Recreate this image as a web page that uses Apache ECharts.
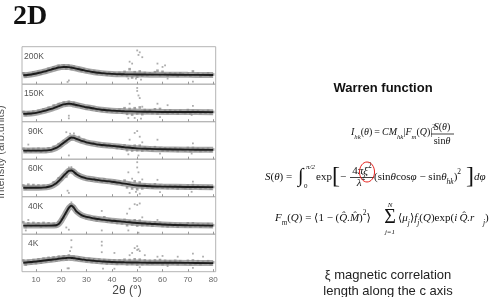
<!DOCTYPE html>
<html>
<head>
<meta charset="utf-8">
<script src="https://cdn.jsdelivr.net/npm/echarts@6/dist/echarts.min.js"></script>
<style>
html,body{margin:0;padding:0;background:#fff}
#main{width:492px;height:297px}
</style>
</head>
<body>
<div id="main"></div>
<script>
// temperatures, top panel first
var temps = ['200K', '150K', '90K', '60K', '40K', '4K'];
var xTicks = [10, 20, 30, 40, 50, 60, 70, 80];

// measured points, one per degree 2θ
var angles = [5, 6, 7, 8, 9, 10, 11, 12, 13, 14, 15, 16, 17, 18, 19, 20, 21, 22, 23, 24, 25, 26, 27, 28, 29, 30,
  31, 32, 33, 34, 35, 36, 37, 38, 39, 40, 41, 42, 43, 44, 45, 46, 47, 48, 49, 50, 51, 52, 53, 54, 55,
  56, 57, 58, 59, 60, 61, 62, 63, 64, 65, 66, 67, 68, 69, 70, 71, 72, 73, 74, 75, 76, 77, 78, 79, 80];

var pts200 = [2.9,2.1,2.7,2.4,3.1,2.7, 3.3,2.8,3.6,3.2,4.1,3.7,4.5,4.0,4.9,4.3, 5.0,4.2,4.9,4.1,4.7,3.9,4.3,3.6,4.0,3.3,
  3.7,3.1,3.5,2.8,3.2,2.7,3.1,2.5,3.0,2.6, 2.9,2.4,3.0,2.5,3.3,2.2,4.0,1.8,3.2,2.0, 3.4,2.3,3.0,2.4,2.9,2.6,3.2,3.6,2.4,3.3,
  2.7,2.3,2.9,2.5,2.8,2.2,2.9,2.6,2.4,2.8, 2.3,3.4,2.5,2.8,2.2,2.7,2.5,2.9,2.3,2.6];
var pts150 = [2.6,1.8,2.4,2.0,2.7,2.3, 2.9,2.4,3.3,2.8,3.7,3.3,4.3,3.8,4.7,4.2, 5.1,4.4,5.3,4.5,5.0,4.2,4.6,3.8,4.2,3.5,
  4.0,3.3,3.7,3.0,3.5,2.9,3.3,2.7,3.2,2.7, 3.0,2.6,3.2,2.4,3.6,2.1,3.4,1.9,3.6,2.2, 3.8,2.0,3.1,2.5,3.0,2.3,3.3,2.2,3.4,2.5,
  2.9,2.3,3.0,2.4,2.8,2.2,2.9,2.5,2.3,3.1, 2.2,2.9,2.5,2.8,2.3,2.7,2.4,2.9,2.3,2.6];
var pts90 = [2.8,2.0,2.6,2.1,2.7,2.2, 2.8,2.0,2.7,2.1,2.9,2.3,3.3,3.0,4.0,3.6, 4.8,4.6,5.6,5.3,6.2,5.3,5.9,4.7,5.1,4.3,
  4.6,4.0,4.3,3.7,4.2,3.6,4.0,3.4,3.8,3.3, 3.6,3.0,3.5,2.8,3.7,2.4,3.4,2.3,3.6,2.4, 3.6,2.3,3.1,2.6,3.0,2.4,3.2,2.7,2.9,2.3,
  2.9,2.3,2.8,2.4,2.9,2.2,2.8,2.5,2.3,3.0, 2.2,3.0,2.4,2.8,2.2,2.7,2.3,2.8,2.2,2.6];
var pts60 = [3.0,2.2,3.2,2.4,3.1,2.5, 3.0,2.3,2.9,2.5,3.0,2.8,3.8,3.4,4.9,4.5, 5.9,5.4,7.2,7.3,7.1,6.3,6.0,5.1,5.2,4.6,
  5.1,4.3,4.8,4.2,4.7,4.0,4.6,3.9,4.3,3.8, 4.2,3.5,4.0,3.2,4.3,2.5,3.6,2.2,4.1,2.0, 3.8,2.2,3.2,2.5,3.1,2.4,3.3,2.6,3.0,2.4,
  2.9,2.3,2.9,2.4,2.8,2.2,2.9,2.5,2.3,3.0, 2.2,3.1,2.4,2.8,2.2,2.7,2.4,2.8,2.2,2.6];
var pts40 = [3.2,1.9,2.9,2.2,3.0,2.4, 2.9,2.0,3.0,2.3,2.9,2.4,2.8,2.2,3.2,3.9, 4.5,5.5,7.3,7.8,7.4,5.8,5.6,4.8,4.9,4.3,
  4.6,4.0,4.5,3.7,4.2,3.8,4.5,3.4,3.9,3.3, 3.7,3.0,3.5,2.9,3.8,2.4,3.5,2.6,3.7,2.3, 3.6,2.4,3.1,2.5,3.0,2.3,3.1,2.6,3.0,2.2,
  2.7,2.1,2.8,2.3,2.7,2.0,2.7,2.4,2.1,2.9, 2.0,2.9,2.2,2.6,2.0,2.5,2.2,2.7,2.0,2.4];
var pts4 = [3.0,1.9,2.9,2.2,3.1,2.3, 3.3,2.4,3.5,2.7,3.7,2.9,3.8,3.0,4.0,3.2, 4.1,3.3,4.3,3.9,4.0,3.2,3.8,3.0,3.6,2.8,
  3.4,2.6,3.3,2.5,3.2,2.4,3.1,2.2,3.0,2.3, 3.0,2.1,3.0,2.2,3.2,2.0,3.1,2.1,3.3,1.9, 3.2,2.0,3.0,2.1,2.9,2.2,3.0,2.3,3.1,2.0,
  2.9,2.1,2.8,2.2,2.9,2.0,2.8,2.3,2.1,2.9, 2.0,3.0,2.2,2.8,2.0,2.6,2.3,2.8,2.0,2.5];

// outlying points [2θ, intensity]
var out200 = [[23,1.0],[22.5,0.6],[47,6.0],[46.5,1.5],[48,5.5],[50,9.0],[50.5,7.8],[51,8.5],[52,7.2],[49.5,1.5],[51.5,1.2],[58,5.5],[61,5.0],[62,1.5],[72,0.7],[60,4.6]];
var out150 = [[23,0.9],[23,1.6],[47,4.8],[46.5,1.0],[50,9.0],[50,8.2],[50.5,7.0],[51,6.3],[49,1.0],[51.5,0.8],[52,4.0],[58,4.8],[59,1.2],[62,4.4],[72,4.2],[71.5,1.8]];
var out90 = [[22,7.2],[23.5,6.8],[25,6.9],[23,1.0],[47,5.2],[46.5,1.3],[49,7.0],[50,7.5],[51,6.0],[50.5,1.0],[52,4.5],[58,5.2],[59,1.5],[72,4.2],[71.5,1.5],[7,3.9]];
var out60 = [[23,7.8],[24,7.9],[23,1.0],[22.5,1.6],[46.5,6.5],[47,1.0],[48,4.8],[50,9.2],[50,7.8],[50.5,6.5],[49.5,1.3],[51,0.8],[52,4.6],[58,4.5],[59,1.2],[72,4.0],[71.5,1.3]];
var out40 = [[24,8.5],[23.5,8.0],[23,1.2],[22,1.8],[36,6.2],[36,1.0],[46,5.5],[46.5,1.0],[47,6.8],[49,8.0],[50,7.8],[51,8.2],[50.5,0.4],[52,4.5],[58,3.8],[7,3.8],[6,1.0]];
var out4 = [[24,8.4],[24,6.5],[23.5,5.5],[23,0.9],[22.5,0.9],[36,8.0],[36,7.0],[36,5.2],[36.5,0.8],[41,5.0],[41,0.8],[47,4.4],[48,5.0],[49,6.3],[50,6.8],[50,5.8],[50.5,6.0],[51,5.5],[51,1.2],[53,4.4],[58,4.0],[60,4.2],[62,1.5],[66,4.0],[72,4.8],[72,1.0],[76,4.0]];

// Warren fit curves
var fitAngles = [5, 8, 11, 14, 16, 18, 19, 20, 21, 22, 23, 24, 25, 26, 28, 30, 33, 36, 40, 45, 50, 55, 60, 70, 80];
var fit200 = [2.4,2.6,3.0,3.5,3.9,4.3,4.45,4.55,4.6,4.6,4.55,4.45,4.3,4.15,3.85,3.55,3.2,2.95,2.75,2.65,2.6,2.55,2.55,2.5,2.45];
var fit150 = [2.1,2.2,2.5,3.0,3.4,3.9,4.15,4.4,4.6,4.75,4.8,4.75,4.6,4.45,4.15,3.85,3.5,3.2,2.95,2.8,2.7,2.65,2.6,2.6,2.55];
var fit90 = [2.3,2.3,2.3,2.35,2.5,3.0,3.4,3.9,4.4,4.9,5.4,5.8,5.7,5.4,4.9,4.5,4.1,3.8,3.55,3.2,2.9,2.75,2.65,2.55,2.5];
var fit60 = [2.4,2.4,2.4,2.5,2.8,3.6,4.2,4.9,5.6,6.3,6.9,7.0,6.6,6.0,5.3,4.9,4.6,4.3,4.0,3.5,3.0,2.8,2.7,2.6,2.55];
var fit40 = [2.3,2.3,2.3,2.3,2.3,2.4,2.7,3.6,4.7,5.9,7.0,7.6,7.0,6.1,5.1,4.6,4.2,3.9,3.6,3.3,3.0,2.8,2.6,2.4,2.3];
var fit4 = [2.4,2.6,2.8,3.05,3.2,3.35,3.45,3.55,3.6,3.65,3.7,3.65,3.6,3.5,3.3,3.1,2.9,2.75,2.6,2.5,2.45,2.4,2.4,2.35,2.3];

var points = [pts200, pts150, pts90, pts60, pts40, pts4];
var outliers = [out200, out150, out90, out60, out40, out4];
var fits = [fit200, fit150, fit90, fit60, fit40, fit4];

var myChart = echarts.init(document.getElementById('main'));

var SERIF = '"Liberation Serif", "DejaVu Serif", serif';
var SANS = '"Liberation Sans", Arial, sans-serif';
var top0 = 46.7, ph = 37.5;

var grids = [], xAxes = [], yAxes = [], series = [], graphics = [];
temps.forEach(function (t, i) {
  var last = i == temps.length - 1;
  grids.push({left: 22, right: 276.3, top: top0 + ph * i, height: ph, show: true, borderColor: '#b4b4b4', borderWidth: 1});
  xAxes.push({
    type: 'value', gridIndex: i, min: 4.5, max: 81,
    axisLine: {show: false},
    axisTick: {show: true, inside: true, length: 2.5, customValues: xTicks, lineStyle: {color: '#999'}},
    axisLabel: {show: last, customValues: xTicks, fontSize: 8, color: '#666', margin: 4, fontFamily: SANS},
    splitLine: {show: false}
  });
  yAxes.push({type: 'value', gridIndex: i, min: 0, max: 10, show: false});
  series.push({
    type: 'scatter', xAxisIndex: i, yAxisIndex: i, symbol: 'rect', symbolSize: 2.6,
    itemStyle: {color: '#8e8e8e'}, silent: true,
    data: angles.map(function (a, k) { return [a, points[i][k]]; })
  });
  series.push({
    type: 'scatter', xAxisIndex: i, yAxisIndex: i, symbol: 'rect', symbolSize: 1.8,
    itemStyle: {color: '#999'}, silent: true, data: outliers[i]
  });
  series.push({
    type: 'line', xAxisIndex: i, yAxisIndex: i, smooth: 0.4, symbol: 'none', silent: true,
    lineStyle: {color: '#8a8a8a', width: 6, opacity: 0.75},
    data: fitAngles.map(function (a, k) { return [a, fits[i][k]]; })
  });
  series.push({
    type: 'line', xAxisIndex: i, yAxisIndex: i, smooth: 0.4, symbol: 'none', silent: true,
    lineStyle: {color: '#1c1c1c', width: 1.9},
    data: fitAngles.map(function (a, k) { return [a, fits[i][k]]; })
  });
  graphics.push({
    type: 'text', x: i == 0 || i == 1 ? 24 : 28, y: top0 + ph * i + 9.5,
    style: {text: t, font: '8.5px ' + SANS, fill: '#555', textVerticalAlign: 'middle'}
  });
});

// rich text styles for the formulas
function richAt(fs) {
  var sub = Math.round(fs * 0.68 * 10) / 10;
  return {
    i: {fontFamily: SERIF, fontStyle: 'italic', fontSize: fs, lineHeight: 18, fill: '#111'},
    r: {fontFamily: SERIF, fontSize: fs, lineHeight: 18, fill: '#111'},
    s: {fontFamily: SERIF, fontStyle: 'italic', fontSize: sub, lineHeight: 8, verticalAlign: 'bottom', fill: '#111'},
    p: {fontFamily: SERIF, fontSize: sub, lineHeight: 8, verticalAlign: 'top', fill: '#111'},
    b: {fontFamily: SERIF, fontSize: 24, lineHeight: 18, fill: '#111'}
  };
}
var rich = richAt(11), rich1 = richAt(10);
function eq(x, y, text, align, r) {
  return {type: 'text', x: x, y: y, style: {text: text, rich: r || rich, textAlign: align || 'left', textVerticalAlign: 'middle'}};
}
function bar(x1, x2, y) {
  return {type: 'line', shape: {x1: x1, y1: y, x2: x2, y2: y}, style: {stroke: '#111', lineWidth: 0.8}};
}
function txt(x, y, s, font, align, color) {
  return {type: 'text', x: x, y: y, style: {text: s, font: font, fill: color || '#111', textAlign: align || 'left', textVerticalAlign: 'middle'}};
}

graphics.push(
  txt(13, 17, '2D', 'bold 28px ' + SERIF),
  {type: 'text', x: 1, y: 152, rotation: Math.PI / 2,
   style: {text: 'Intensity (arb.units)', font: '11px ' + SANS, fill: '#555', textAlign: 'center', textVerticalAlign: 'middle'}},
  txt(127, 291, '2θ (°)', '12px ' + SANS, 'center', '#444'),
  txt(383, 88, 'Warren function', 'bold 13px ' + SANS, 'center'),

  // I_hk(θ)
  eq(351, 132, '{i|I}{s|hk}{r|(}{i|θ}{r|)\u2009=\u2009}{i|CM}{s|hk}{r||}{i|F}{s|m}{r|(}{i|Q}{r|)|}{p|2}', 'left', rich1),
  eq(442, 127, '{i|S}{r|(}{i|θ}{r|)}', 'center', rich1),
  bar(431, 454, 134),
  eq(442, 141, '{r|sin}{i|θ}', 'center', rich1),

  // S(θ)
  eq(265, 177, '{i|S}{r|(}{i|θ}{r|) = }'),
  txt(298, 177, '∫', '20px ' + SERIF),
  txt(306, 167, 'π/2', 'italic 7px ' + SERIF),
  txt(304, 186, '0', '7px ' + SERIF),
  eq(316, 177, '{r|exp}{b|[}'),
  txt(340, 177, '−', '11px ' + SERIF),
  eq(362, 171, '{r|4}{i|πξ}{p|2}', 'center'),
  bar(350, 374, 177.5),
  eq(361, 183, '{i|λ}{p|2}', 'center'),
  eq(374, 177, '{r|(sin}{i|θ}{r|cos}{i|φ}{r| − sin}{i|θ}{s|hk}{r|)}{p|2}'),
  eq(466, 177, '{b|]}'),
  eq(474, 177, '{i|dφ}'),
  {type: 'ellipse', shape: {cx: 367, cy: 172, rx: 7.5, ry: 10}, style: {fill: 'none', stroke: '#e8231f', lineWidth: 1}},

  // F_m(Q)
  eq(275, 218, '{i|F}{s|m}{r|(}{i|Q}{r|) = ⟨1 − (}{i|Q̂.M̂}{r|)}{p|2}{r|⟩}'),
  txt(390, 218, 'Σ', '20px ' + SERIF, 'center'),
  txt(390, 205, 'N', 'italic 7px ' + SERIF, 'center'),
  txt(390, 232, 'j=1', 'italic 7px ' + SERIF, 'center'),
  eq(398, 218, '{r|⟨}{i|μ}{s|j}{r|⟩}{i|f}{s|j}{r|(}{i|Q}{r|)exp(}{i|i\u2009Q̂.r⃗}{s|j}{r|)}'),

  txt(388, 275, 'ξ magnetic correlation', '13px ' + SANS, 'center', '#222'),
  txt(388, 291, 'length along the c axis', '13px ' + SANS, 'center', '#222')
);

var option = {
  backgroundColor: '#fff',
  animation: false,
  grid: grids,
  xAxis: xAxes,
  yAxis: yAxes,
  series: series,
  graphic: graphics
};
myChart.setOption(option);
</script>
</body>
</html>
